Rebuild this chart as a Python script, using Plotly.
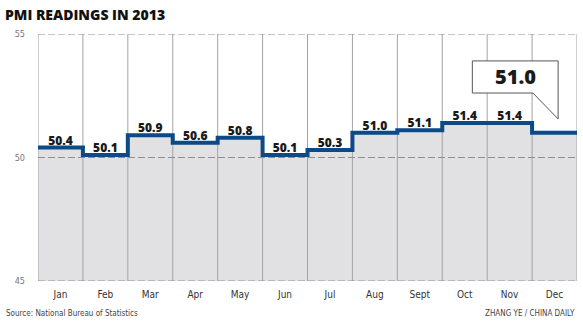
import plotly.graph_objects as go

months = ["Jan", "Feb", "Mar", "Apr", "May", "Jun", "Jul", "Aug", "Sept", "Oct", "Nov", "Dec"]
pmi = [50.4, 50.1, 50.9, 50.6, 50.8, 50.1, 50.3, 51.0, 51.1, 51.4, 51.4, 51.0]
y_ticks = [45, 50, 55]
title = "PMI READINGS IN 2013"
source = "Source: National Bureau of Statistics"
credit = "ZHANG YE / CHINA DAILY"

n = len(months)
edges = list(range(n + 1))
step_y = pmi + [pmi[-1]]
centers = [i + 0.5 for i in range(n)]

BLUE = "#0b4a86"
FILL = "#e1e1e3"
GRID = "#a3a3a3"
NARROW = "DejaVu Sans Condensed, Liberation Sans Narrow, Roboto"

fig = go.Figure()
# gray fill under the step line
fig.add_trace(go.Scatter(x=edges, y=step_y, mode="lines", line=dict(width=0, shape="hv"),
                         fill="tozeroy", fillcolor=FILL, hoverinfo="skip", showlegend=False))
# vertical grid lines
vx, vy = [], []
for e in edges:
    vx += [e, e, None]
    vy += [y_ticks[0], y_ticks[-1], None]
fig.add_trace(go.Scatter(x=vx, y=vy, mode="lines", line=dict(color=GRID, width=1),
                         hoverinfo="skip", showlegend=False))
# horizontal dashed grid lines
hx, hy = [], []
for t in y_ticks:
    hx += [0, n, None]
    hy += [t, t, None]
fig.add_trace(go.Scatter(x=hx, y=hy, mode="lines", line=dict(color="#8f8f8f", width=1, dash="7px,3px"),
                         hoverinfo="skip", showlegend=False))
# step line
fig.add_trace(go.Scatter(x=edges, y=step_y, mode="lines", line=dict(color=BLUE, width=4, shape="hv"),
                         hoverinfo="skip", showlegend=False))
# value labels (all but last, which gets a callout)
fig.add_trace(go.Scatter(x=centers[:-1], y=pmi[:-1], mode="text",
                         text=[f"{v:.1f}" for v in pmi[:-1]], textposition="top center",
                         textfont=dict(family="Open Sans", size=12, color="#1a1a1a", weight=800),
                         hoverinfo="skip", showlegend=False))

# callout for last value
last = pmi[-1]
x0, x1, xt = n - 2.33, n - 0.42, n - 0.98
ytop, ybot, ytip = last + 2.91, last + 1.61, last + 0.56
fig.add_shape(type="path",
              path=f"M {x0} {ytop} L {x1} {ytop} L {x1} {ytip} L {xt} {ybot} L {x0} {ybot} Z",
              xref="x", yref="y", fillcolor="white", line=dict(color="#555555", width=1))
fig.add_annotation(x=(x0 + x1) / 2, y=(ytop + ybot) / 2, xref="x", yref="y",
                   text=f"{last:.1f}", showarrow=False,
                   font=dict(family="Open Sans", size=20, color="#1a1a1a", weight=800))

fig.update_layout(
    width=583, height=323,
    margin=dict(l=38, r=6, t=34, b=42),
    plot_bgcolor="white", paper_bgcolor="white",
    title=dict(text=title, xref="container", yref="container", x=5 / 583, xanchor="left",
               y=1 - 15 / 323, yanchor="middle",
               font=dict(family="Open Sans", size=14, color="#111111", weight=800)),
    xaxis=dict(range=[0, n], tickvals=centers, ticktext=months, showgrid=False, zeroline=False,
               showline=False, ticks="", ticklabelstandoff=6,
               tickfont=dict(family=NARROW, size=10, color="#333333")),
    yaxis=dict(range=[y_ticks[0], y_ticks[-1]], tickvals=y_ticks, showgrid=False, zeroline=False,
               showline=False, ticks="", ticklabelstandoff=12,
               tickfont=dict(family=NARROW, size=9, color="#777777")),
    annotations=list(fig.layout.annotations) + [
        dict(text=source, xref="paper", yref="paper", x=-34 / 540, y=-32 / 247, xanchor="left",
             yanchor="middle", showarrow=False,
             font=dict(family=NARROW, size=8, color="#444444")),
        dict(text=credit, xref="paper", yref="paper", x=1, y=-32 / 247, xanchor="right",
             yanchor="middle", showarrow=False,
             font=dict(family=NARROW, size=8, color="#444444")),
    ],
)

fig.write_html("out.html")
